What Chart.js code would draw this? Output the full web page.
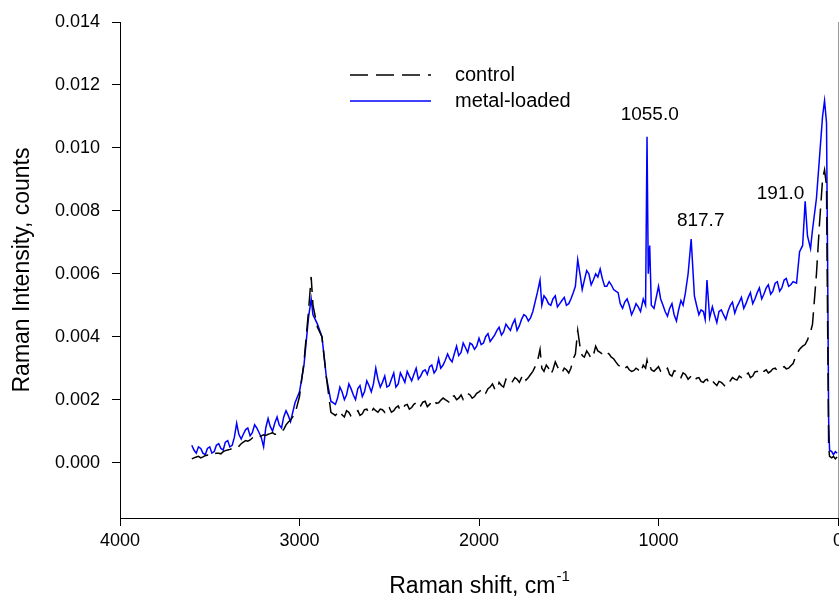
<!DOCTYPE html>
<html>
<head>
<meta charset="utf-8">
<script src="https://cdn.jsdelivr.net/npm/chart.js@4.4.1/dist/chart.umd.min.js"></script>
<style>
  html, body { margin: 0; padding: 0; background: #fff; }
</style>
</head>
<body>
<canvas id="c" width="839" height="600"></canvas>
<script>
// Raman shift (cm-1)
const shift = [
  3600, 3588, 3575, 3563, 3550, 3538, 3525, 3513, 3500, 3488,
  3475, 3463, 3450, 3438, 3425, 3413, 3400, 3388, 3375, 3363,
  3350, 3338, 3325, 3313, 3300, 3288, 3275, 3263, 3250, 3238,
  3225, 3213, 3200, 3188, 3175, 3163, 3150, 3138, 3125, 3113,
  3100, 3088, 3075, 3063, 3050, 3025, 3000, 2975, 2950, 2935,
  2925, 2900, 2875, 2850, 2825, 2800, 2788, 2775, 2763, 2750,
  2738, 2725, 2713, 2700, 2688, 2675, 2663, 2650, 2638, 2625,
  2613, 2600, 2588, 2575, 2563, 2550, 2538, 2525, 2513, 2500,
  2488, 2475, 2463, 2450, 2438, 2425, 2413, 2400, 2388, 2375,
  2363, 2350, 2338, 2325, 2313, 2300, 2288, 2275, 2263, 2250,
  2238, 2225, 2213, 2200, 2188, 2175, 2163, 2150, 2138, 2125,
  2113, 2100, 2088, 2075, 2063, 2050, 2038, 2025, 2013, 2000,
  1988, 1975, 1963, 1950, 1938, 1925, 1913, 1900, 1888, 1875,
  1863, 1850, 1838, 1825, 1813, 1800, 1788, 1775, 1763, 1750,
  1738, 1725, 1713, 1700, 1675, 1660, 1650, 1638, 1625, 1613,
  1600, 1588, 1575, 1563, 1550, 1538, 1525, 1513, 1500, 1488,
  1475, 1463, 1450, 1435, 1425, 1413, 1400, 1388, 1375, 1363,
  1350, 1338, 1325, 1313, 1300, 1288, 1275, 1263, 1250, 1238,
  1225, 1213, 1200, 1188, 1175, 1163, 1150, 1138, 1125, 1113,
  1100, 1085, 1072, 1064, 1057, 1049, 1040, 1025, 1000, 988,
  975, 963, 950, 938, 925, 913, 900, 888, 875, 863,
  850, 835, 818, 800, 788, 775, 763, 750, 740, 730,
  715, 700, 688, 675, 663, 650, 638, 625, 613, 600,
  588, 575, 563, 550, 538, 525, 513, 500, 488, 475,
  463, 450, 438, 425, 413, 400, 388, 375, 363, 350,
  338, 325, 313, 300, 288, 275, 263, 250, 231, 214,
  197, 183, 170, 153, 142, 120, 103, 86, 75, 64,
  58, 52, 47, 35, 25, 15, 5
];

const control = [
  0.00012, 0.00015, 0.00018, 0.00020, 0.00015, 0.00018, 0.00022, 0.00024, 0.00020, 0.00022,
  0.00028, 0.00030, 0.00030, 0.00028, 0.00035, 0.00038, 0.00040, 0.00042, 0.00045, 0.00050,
  0.00055, 0.00052, 0.00060, 0.00065, 0.00070, 0.00068, 0.00072, 0.00078, 0.00085, 0.00082,
  0.00080, 0.00085, 0.00088, 0.00086, 0.00090, 0.00092, 0.00095, 0.00090, 0.00090, 0.00098,
  0.00100, 0.00105, 0.00120, 0.00128, 0.00135, 0.00155, 0.00210, 0.00320, 0.00480, 0.00590,
  0.00500, 0.00430, 0.00400, 0.00270, 0.00160, 0.00150, 0.00158, 0.00165, 0.00152, 0.00145,
  0.00165, 0.00160, 0.00148, 0.00150, 0.00160, 0.00165, 0.00150, 0.00155, 0.00168, 0.00170,
  0.00155, 0.00160, 0.00172, 0.00165, 0.00160, 0.00170, 0.00168, 0.00160, 0.00178, 0.00175,
  0.00160, 0.00165, 0.00175, 0.00180, 0.00165, 0.00170, 0.00182, 0.00185, 0.00170, 0.00175,
  0.00185, 0.00190, 0.00175, 0.00180, 0.00192, 0.00195, 0.00178, 0.00185, 0.00195, 0.00200,
  0.00188, 0.00190, 0.00198, 0.00205, 0.00200, 0.00195, 0.00190, 0.00210, 0.00212, 0.00200,
  0.00205, 0.00215, 0.00200, 0.00205, 0.00220, 0.00215, 0.00205, 0.00210, 0.00220, 0.00225,
  0.00230, 0.00215, 0.00220, 0.00235, 0.00240, 0.00250, 0.00235, 0.00230, 0.00255, 0.00245,
  0.00240, 0.00265, 0.00260, 0.00250, 0.00258, 0.00270, 0.00265, 0.00255, 0.00270, 0.00280,
  0.00262, 0.00270, 0.00280, 0.00290, 0.00320, 0.00360, 0.00300, 0.00290, 0.00310, 0.00300,
  0.00280, 0.00295, 0.00320, 0.00305, 0.00290, 0.00285, 0.00300, 0.00295, 0.00285, 0.00300,
  0.00330, 0.00345, 0.00420, 0.00360, 0.00340, 0.00335, 0.00355, 0.00345, 0.00330, 0.00340,
  0.00370, 0.00355, 0.00350, 0.00345, 0.00340, 0.00350, 0.00345, 0.00335, 0.00330, 0.00320,
  0.00310, 0.00305, 0.00295, 0.00300, 0.00305, 0.00295, 0.00290, 0.00292, 0.00300, 0.00295,
  0.00285, 0.00310, 0.00300, 0.00325, 0.00305, 0.00310, 0.00295, 0.00290, 0.00305, 0.00290,
  0.00285, 0.00295, 0.00300, 0.00280, 0.00275, 0.00292, 0.00290, 0.00278, 0.00270, 0.00285,
  0.00280, 0.00265, 0.00275, 0.00260, 0.00268, 0.00270, 0.00258, 0.00255, 0.00262, 0.00265,
  0.00250, 0.00260, 0.00252, 0.00245, 0.00258, 0.00255, 0.00248, 0.00240, 0.00252, 0.00260,
  0.00270, 0.00265, 0.00262, 0.00275, 0.00270, 0.00265, 0.00278, 0.00285, 0.00270, 0.00275,
  0.00288, 0.00290, 0.00282, 0.00280, 0.00290, 0.00295, 0.00285, 0.00290, 0.00298, 0.00300,
  0.00292, 0.00295, 0.00302, 0.00305, 0.00298, 0.00300, 0.00308, 0.00315, 0.00345, 0.00360,
  0.00370, 0.00375, 0.00390, 0.00415, 0.00440, 0.00600, 0.00760, 0.00900, 0.00930, 0.00880,
  0.00450, 0.00050, 0.00020, 0.00015, 0.00020, 0.00012, 0.00018
];

const metalLoaded = [
  0.00055, 0.00040, 0.00030, 0.00050, 0.00045, 0.00030, 0.00025, 0.00045, 0.00050, 0.00030,
  0.00035, 0.00055, 0.00060, 0.00045, 0.00040, 0.00065, 0.00070, 0.00050, 0.00055, 0.00080,
  0.00125, 0.00090, 0.00075, 0.00090, 0.00105, 0.00110, 0.00085, 0.00095, 0.00120, 0.00110,
  0.00095, 0.00080, 0.00050, 0.00110, 0.00140, 0.00115, 0.00100, 0.00125, 0.00145, 0.00120,
  0.00110, 0.00145, 0.00165, 0.00150, 0.00130, 0.00190, 0.00225, 0.00310, 0.00460, 0.00520,
  0.00470, 0.00440, 0.00400, 0.00270, 0.00195, 0.00185, 0.00205, 0.00240, 0.00225, 0.00200,
  0.00215, 0.00250, 0.00235, 0.00215, 0.00200, 0.00235, 0.00245, 0.00210, 0.00225, 0.00260,
  0.00245, 0.00225, 0.00250, 0.00300, 0.00265, 0.00240, 0.00255, 0.00275, 0.00240, 0.00245,
  0.00265, 0.00285, 0.00240, 0.00250, 0.00285, 0.00270, 0.00255, 0.00290, 0.00275, 0.00260,
  0.00280, 0.00300, 0.00265, 0.00275, 0.00290, 0.00295, 0.00280, 0.00305, 0.00310, 0.00285,
  0.00295, 0.00330, 0.00300, 0.00310, 0.00325, 0.00345, 0.00330, 0.00320, 0.00345, 0.00370,
  0.00340, 0.00350, 0.00380, 0.00365, 0.00350, 0.00380, 0.00375, 0.00360, 0.00370, 0.00395,
  0.00375, 0.00380, 0.00400, 0.00410, 0.00385, 0.00395, 0.00405, 0.00420, 0.00430, 0.00405,
  0.00415, 0.00440, 0.00430, 0.00420, 0.00440, 0.00455, 0.00420, 0.00435, 0.00455, 0.00470,
  0.00465, 0.00450, 0.00460, 0.00480, 0.00540, 0.00580, 0.00500, 0.00530, 0.00520, 0.00505,
  0.00500, 0.00520, 0.00530, 0.00495, 0.00505, 0.00515, 0.00525, 0.00500, 0.00505, 0.00520,
  0.00540, 0.00560, 0.00645, 0.00590, 0.00550, 0.00580, 0.00610, 0.00600, 0.00565, 0.00580,
  0.00600, 0.00590, 0.00615, 0.00585, 0.00560, 0.00560, 0.00575, 0.00565, 0.00550, 0.00545,
  0.00540, 0.00505, 0.00490, 0.00510, 0.00520, 0.00500, 0.00470, 0.00485, 0.00505, 0.00495,
  0.00480, 0.00520, 0.00500, 0.01035, 0.00600, 0.00690, 0.00500, 0.00490, 0.00560, 0.00520,
  0.00500, 0.00480, 0.00465, 0.00490, 0.00505, 0.00470, 0.00450, 0.00485, 0.00515, 0.00500,
  0.00540, 0.00600, 0.00710, 0.00530, 0.00500, 0.00470, 0.00485, 0.00480, 0.00455, 0.00580,
  0.00460, 0.00495, 0.00470, 0.00445, 0.00480, 0.00485, 0.00470, 0.00455, 0.00480, 0.00500,
  0.00510, 0.00475, 0.00495, 0.00510, 0.00525, 0.00490, 0.00505, 0.00525, 0.00540, 0.00505,
  0.00520, 0.00540, 0.00555, 0.00520, 0.00535, 0.00555, 0.00565, 0.00535, 0.00545, 0.00570,
  0.00575, 0.00545, 0.00555, 0.00580, 0.00585, 0.00560, 0.00565, 0.00575, 0.00570, 0.00670,
  0.00690, 0.00830, 0.00720, 0.00680, 0.00740, 0.00840, 0.00970, 0.01100, 0.01150, 0.01080,
  0.00650, 0.00130, 0.00040, 0.00035, 0.00025, 0.00035, 0.00030
];

const seriesNames = ['control', 'metal-loaded'];
const xTicks = [4000, 3000, 2000, 1000, 0];
const yTicks = [0, 0.002, 0.004, 0.006, 0.008, 0.010, 0.012, 0.014];
const peakLabels = ['1055.0', '817.7', '191.0'];
const xTitle = 'Raman shift, cm';
const xTitleSup = '-1';
const yTitle = 'Raman Intensity, counts';

const FONT = '"Liberation Sans", Arial, sans-serif';
Chart.defaults.font.family = FONT;
Chart.defaults.color = '#000';

// label anchors in data units (placement only)
const peakAnchors = [[1049, 0.01104], [765, 0.0077], [320, 0.00853]];

// titles, legend, peak labels, faint right frame
const extras = {
  id: 'extras',
  afterDraw(chart) {
    const { ctx, chartArea: a, scales: { x, y } } = chart;
    ctx.save();
    ctx.fillStyle = '#000';

    // right frame line
    ctx.strokeStyle = '#999';
    ctx.lineWidth = 1;
    ctx.beginPath();
    ctx.moveTo(a.right + 0.5, a.top);
    ctx.lineTo(a.right + 0.5, a.bottom);
    ctx.stroke();

    // x title with superscript
    const big = '23px ' + FONT, small = '15px ' + FONT;
    ctx.font = big;
    const w1 = ctx.measureText(xTitle).width;
    ctx.font = small;
    const w2 = ctx.measureText(xTitleSup).width;
    const sx = (a.left + a.right) / 2 - (w1 + w2) / 2;
    ctx.textAlign = 'left';
    ctx.textBaseline = 'alphabetic';
    ctx.font = big;
    ctx.fillText(xTitle, sx, 593);
    ctx.font = small;
    ctx.fillText(xTitleSup, sx + w1 + 1, 581);

    // y title
    ctx.save();
    ctx.translate(23, (a.top + a.bottom) / 2);
    ctx.rotate(-Math.PI / 2);
    ctx.font = big;
    ctx.textAlign = 'center';
    ctx.textBaseline = 'middle';
    ctx.fillText(yTitle, 0, 0);
    ctx.restore();

    // legend
    ctx.font = '20px ' + FONT;
    ctx.textAlign = 'left';
    ctx.textBaseline = 'middle';
    chart.data.datasets.forEach((ds, i) => {
      const ly = 75 + i * 26;
      ctx.save();
      ctx.strokeStyle = ds.borderColor;
      ctx.lineWidth = ds.borderWidth;
      ctx.setLineDash(ds.borderDash || []);
      ctx.beginPath();
      ctx.moveTo(350, ly);
      ctx.lineTo(431, ly);
      ctx.stroke();
      ctx.restore();
      ctx.fillText(ds.label, 455, ly);
    });

    // peak labels
    ctx.font = '19px ' + FONT;
    ctx.textAlign = 'center';
    peakLabels.forEach((t, i) => {
      const [px, py] = peakAnchors[i];
      ctx.fillText(t, x.getPixelForValue(px), y.getPixelForValue(py));
    });
    ctx.restore();
  }
};

new Chart(document.getElementById('c'), {
  type: 'line',
  data: {
    datasets: [
      {
        label: seriesNames[0],
        data: shift.map((s, i) => ({ x: s, y: control[i] })),
        borderColor: '#000000',
        borderWidth: 1.5,
        borderDash: [18, 8],
        pointRadius: 0,
        tension: 0,
        fill: false
      },
      {
        label: seriesNames[1],
        data: shift.map((s, i) => ({ x: s, y: metalLoaded[i] })),
        borderColor: '#0000ff',
        borderWidth: 1.5,
        pointRadius: 0,
        tension: 0,
        fill: false
      }
    ]
  },
  options: {
    responsive: false,
    animation: false,
    layout: { padding: { top: 22, right: 1, left: 0, bottom: 0 } },
    plugins: { legend: { display: false }, tooltip: { enabled: false } },
    scales: {
      x: {
        type: 'linear',
        reverse: true,
        min: 0,
        max: 4000,
        afterBuildTicks: s => { s.ticks = xTicks.map(v => ({ value: v })); },
        afterFit: s => { s.height = 82; s.paddingLeft = 0; s.paddingRight = 0; },
        ticks: {
          font: { size: 18 },
          color: '#000',
          padding: 4,
          maxRotation: 0,
          autoSkip: false,
          callback: v => String(v)
        },
        grid: { drawOnChartArea: false, tickLength: 8, color: '#000' },
        border: { color: '#000', width: 1 }
      },
      y: {
        type: 'linear',
        min: -0.00176,
        max: 0.014,
        afterBuildTicks: s => { s.ticks = yTicks.map(v => ({ value: v })); },
        afterFit: s => { s.width = 120; s.paddingTop = 0; s.paddingBottom = 0; },
        ticks: {
          font: { size: 18 },
          color: '#000',
          padding: 12,
          autoSkip: false,
          callback: v => Number(v).toFixed(3)
        },
        grid: { drawOnChartArea: false, tickLength: 8, color: '#000' },
        border: { color: '#000', width: 1 }
      }
    }
  },
  plugins: [extras]
});
</script>
</body>
</html>
